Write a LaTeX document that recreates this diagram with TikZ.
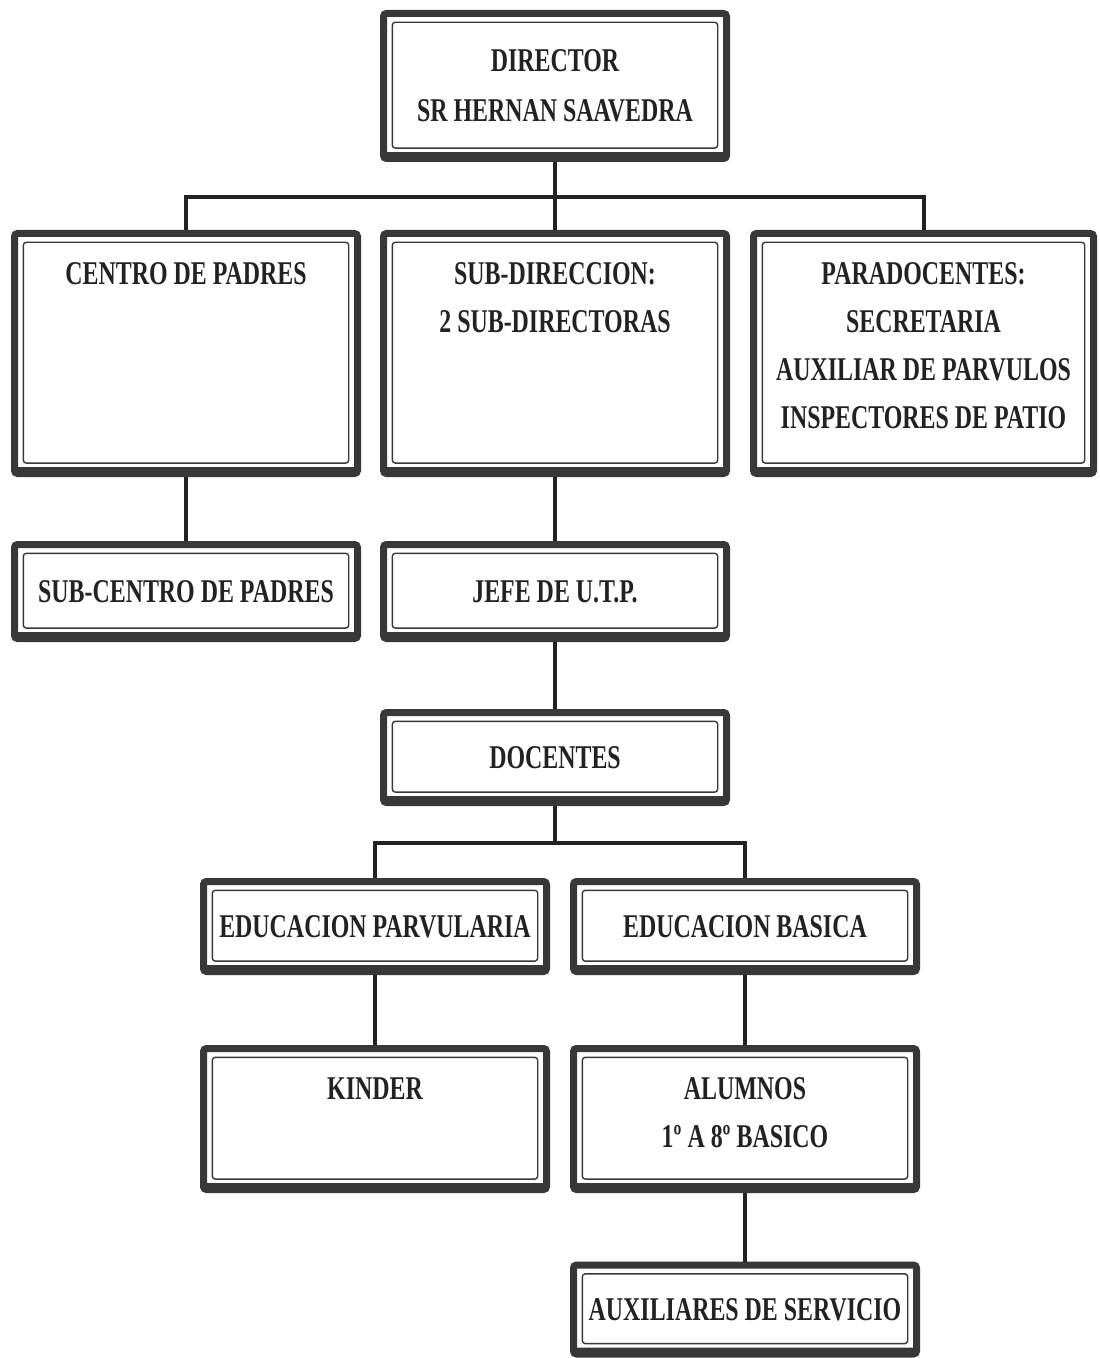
\documentclass[tikz,border=0pt]{standalone}
\usepackage{fontspec}
\setmainfont{Liberation Serif}[FakeStretch=0.72]
\newcommand{\orgfont}{\fontsize{16.6}{24}\selectfont\bfseries}
\definecolor{bordc}{HTML}{383838}
\definecolor{txtc}{HTML}{222222}
\begin{document}
\begin{tikzpicture}[x=0.5pt,y=-0.5pt,
  orgbox/.style={draw=bordc, line width=3.5pt, rounded corners=1.5pt, fill=white,
    inner sep=0pt, align=center, text=txtc, font=\orgfont, minimum width=171.5pt,
    path picture={
      \fill[bordc] ([yshift=1.5pt]path picture bounding box.south west) rectangle ([yshift=3.2pt]path picture bounding box.south east);
      \draw[bordc, line width=0.7pt] ([shift={(4.4pt,-4.4pt)}]path picture bounding box.north west) rectangle ([shift={(-4.4pt,5.2pt)}]path picture bounding box.south east);
    }},
  toptext/.style={anchor=north, yshift=-16.25pt, inner sep=0pt, align=center, text=txtc, font=\orgfont},
  conn/.style={draw=txtc, line width=2pt}]
\useasboundingbox (0,0) rectangle (1099,1358);

\node[orgbox, minimum height=72.5pt] (dir) at (555,86) {DIRECTOR\\[1pt]SR HERNAN SAAVEDRA};

\node[orgbox, minimum height=120pt] (cp) at (186,353.5) {};
\node[toptext] (cpt) at (cp.north) {CENTRO DE PADRES};
\node[orgbox, minimum height=120pt] (sd) at (555,353.5) {};
\node[toptext] (sdt) at (sd.north) {SUB-DIRECCION:\\2 SUB-DIRECTORAS};
\node[orgbox, minimum height=120pt, minimum width=170pt] (pd) at (923.5,353.5) {};
\node[toptext] (pdt) at (pd.north) {PARADOCENTES:\\SECRETARIA\\AUXILIAR DE PARVULOS\\INSPECTORES DE PATIO};

\node[orgbox, minimum height=47pt] (scp) at (186,591.5) {SUB-CENTRO DE PADRES};
\node[orgbox, minimum height=47pt] (jefe) at (555,591.5) {JEFE DE U.T.P.};

\node[orgbox, minimum height=45pt] (doc) at (555,757.5) {DOCENTES};

\node[orgbox, minimum height=45pt] (ep) at (375,926.5) {EDUCACION PARVULARIA};
\node[orgbox, minimum height=45pt] (eb) at (745,926.5) {EDUCACION BASICA};

\node[orgbox, minimum height=70.5pt] (kin) at (375,1119) {};
\node[toptext] (kint) at (kin.north) {KINDER};
\node[orgbox, minimum height=70.5pt] (alu) at (745,1119) {};
\node[toptext] (alut) at (alu.north) {ALUMNOS\\1º A 8º BASICO};

\node[orgbox, minimum height=44.5pt] (aux) at (745,1309.5) {AUXILIARES DE SERVICIO};

% connectors
\coordinate (j1) at (555,197);
\coordinate (j2) at (555,843);
\draw[conn] (dir.south) -- (sd.north);
\draw[conn] (cp.north) -- (cp.north |- j1) -- (pd.north |- j1) -- (pd.north);
\draw[conn] (cp.south) -- (scp.north);
\draw[conn] (sd.south) -- (jefe.north);
\draw[conn] (jefe.south) -- (doc.north);
\draw[conn] (doc.south) -- (j2);
\draw[conn] (ep.north) -- (ep.north |- j2) -- (eb.north |- j2) -- (eb.north);
\draw[conn] (ep.south) -- (kin.north);
\draw[conn] (eb.south) -- (alu.north);
\draw[conn] (alu.south) -- (aux.north);
\end{tikzpicture}
\end{document}
